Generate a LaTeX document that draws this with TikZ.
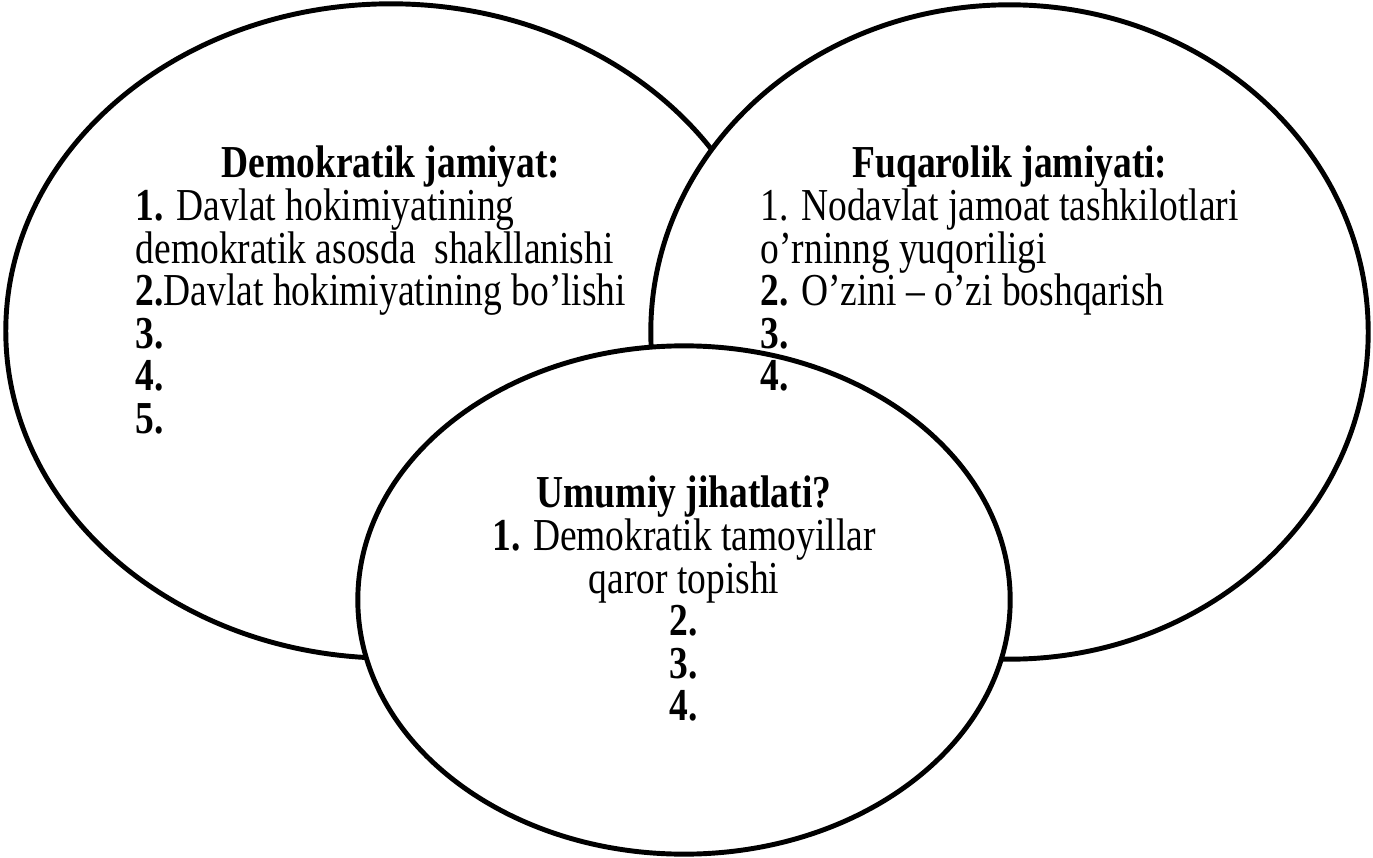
\documentclass[tikz,border=0pt]{standalone}
\usepackage{fontspec}
\setmainfont{Liberation Serif}[FakeStretch=0.82]
\usetikzlibrary{shapes.geometric}
\tikzset{
  venn/.style={ellipse, draw=black, fill=white, line width=1.4pt, inner sep=0pt},
  heading/.style={font=\fontsize{13}{12.12}\selectfont\bfseries,
    anchor=base, inner sep=0pt},
  items/.style={font=\fontsize{13}{12.12}\selectfont,
    align=left, anchor=north west, inner sep=0pt},
}

\begin{document}
\begin{tikzpicture}[x=0.01cm, y=-0.01cm]
  \useasboundingbox (0,0) rectangle (1373,858);

  % the three sets
  \node[venn, minimum width=7.7cm, minimum height=6.54cm] (demo) at (391,331) {};
  \node[venn, minimum width=7.17cm, minimum height=6.54cm] (fuq) at (1009.5,332) {};
  \node[venn, minimum width=6.52cm, minimum height=5.08cm] (umum) at (684,600) {};

  % Demokratik jamiyat (left)
  \node[heading] (demotitle) at (391,178) {Demokratik jamiyat:};
  \node[items] (demolist) at (135,188)
    {\textbf{1.} Davlat hokimiyatining\\
     demokratik asosda\ \ shakllanishi\\
     \textbf{2.}Davlat hokimiyatining bo’lishi\\
     \textbf{3.}\\
     \textbf{4.}\\
     \textbf{5.}};

  % Fuqarolik jamiyati (right)
  \node[heading] (fuqtitle) at (1010,178) {Fuqarolik jamiyati:};
  \node[items] (fuqlist) at (760,188)
    {1. Nodavlat jamoat tashkilotlari\\
     o’rninng yuqoriligi\\
     \textbf{2.} O’zini – o’zi boshqarish\\
     \textbf{3.}\\
     \textbf{4.}};

  % Umumiy jihatlari (bottom)
  \node[heading] (umumtitle) at (684,508) {Umumiy jihatlati?};
  \node[items, align=center, anchor=north] (umumlist) at (684,518)
    {\textbf{1.} Demokratik tamoyillar\\
     qaror topishi\\
     \textbf{2.}\\
     \textbf{3.}\\
     \textbf{4.}};

\end{tikzpicture}
\end{document}
